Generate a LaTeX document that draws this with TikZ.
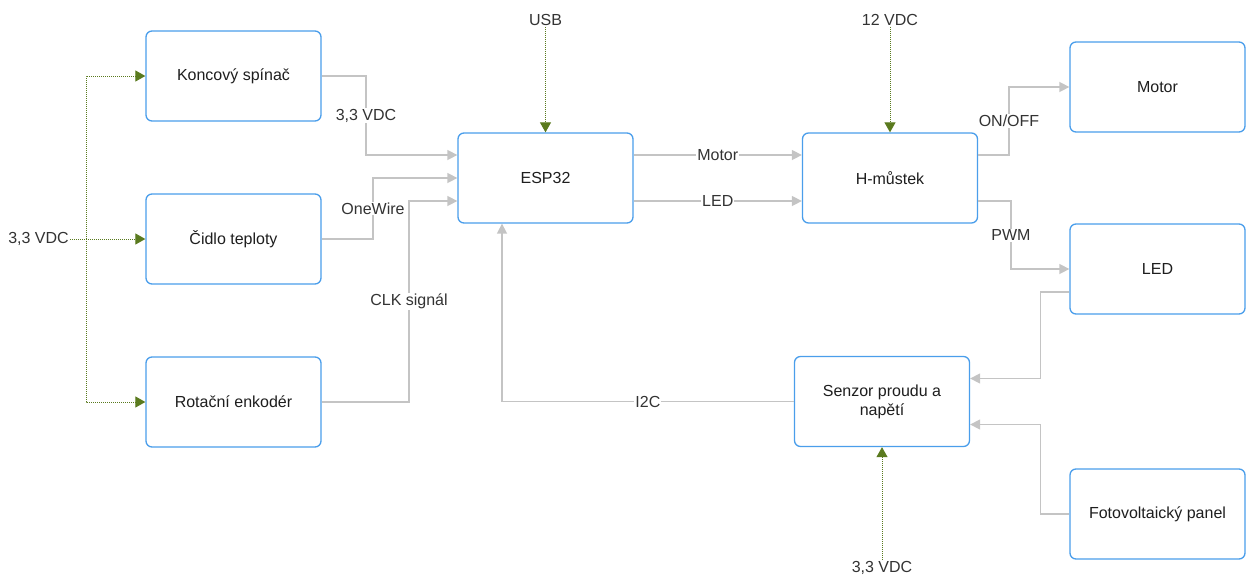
\documentclass[tikz,border=0pt]{standalone}
\usepackage{fontspec}
\setmainfont{Liberation Sans}
\usetikzlibrary{arrows.meta}
\definecolor{boxblue}{HTML}{4A9EEB}
\definecolor{wire}{HTML}{C4C4C4}
\definecolor{pwr}{HTML}{5A7A1E}
\definecolor{txt}{HTML}{1E1E1E}
\definecolor{ltxt}{HTML}{333333}
\begin{document}
\begin{tikzpicture}[x=1pt,y=-1pt,
  font=\fontsize{16}{19}\selectfont,
  blk/.style={draw=boxblue, line width=1.3pt, rounded corners=6pt, fill=white,
    minimum width=175pt, minimum height=90pt, align=center, text=txt, inner sep=2pt},
  sig/.style={draw=wire, line width=1.5pt, -{Triangle[length=10pt,width=10pt]}},
  pw/.style={draw=pwr, line width=1pt, dash pattern=on 1pt off 1pt,
    -{Triangle[length=10pt,width=11pt]}},
  lbl/.style={fill=white, text=ltxt, inner sep=1pt},
  plbl/.style={text=ltxt, inner sep=1pt}]
\useasboundingbox (0,0) rectangle (1251,576);

% blocks
\node[blk] (ko) at (233.5,76) {Koncový spínač};
\node[blk] (ci) at (233.5,239) {Čidlo teploty};
\node[blk] (ro) at (233.5,402) {Rotační enkodér};
\node[blk] (esp) at (545.5,178) {ESP32};
\node[blk] (hm) at (890,178) {H-můstek};
\node[blk] (mo) at (1157.5,87) {Motor};
\node[blk] (led) at (1157.5,269) {LED};
\node[blk] (se) at (882,401.5) {Senzor proudu a\\napětí};
\node[blk] (fv) at (1157.5,514) {Fotovoltaický panel};

% power labels
\node[plbl] (v33l) at (38.5,239) {3,3 VDC};
\node[plbl] (usb) at (545.5,20) {USB};
\node[plbl] (v12) at (890,20) {12 VDC};
\node[plbl] (v33b) at (882,568) {3,3 VDC};
\coordinate (jl) at (86,239);

% power connectors
\draw[pw] (v33l.east) -- (ci.west);
\draw[pw] (jl) |- (ko.west);
\draw[pw] (jl) |- (ro.west);
\draw[pw] (usb.south) -- (esp.north);
\draw[pw] (v12.south) -- (hm.north);
\draw[pw] (v33b.north) -- (se.south);

% signal connectors
\draw[sig] (ko.east) -- (366,76) |- node[pos=.25,lbl]{3,3 VDC} ([yshift=23pt]esp.west);
\draw[sig] (ci.east) -- (373,239) |- node[pos=.25,lbl]{OneWire} (esp.west);
\draw[sig] (ro.east) -- (409,402) |- node[pos=.25,lbl]{CLK signál} ([yshift=-23pt]esp.west);
\draw[sig] ([yshift=23pt]esp.east) -- node[lbl]{Motor} ([yshift=23pt]hm.west);
\draw[sig] ([yshift=-23pt]esp.east) -- node[lbl]{LED} ([yshift=-23pt]hm.west);
\draw[sig] ([yshift=23pt]hm.east) -- (1009,155) |- node[pos=.25,lbl]{ON/OFF} (mo.west);
\draw[sig] ([yshift=-23pt]hm.east) -- (1011,201) |- node[pos=.25,lbl]{PWM} (led.west);
\draw[sig] ([yshift=-23pt]led.west) -- (1040.5,292) |- ([yshift=23pt]se.east);
\draw[sig] (fv.west) -- (1040.5,514) |- ([yshift=-23pt]se.east);
\draw[sig] (se.west) -| node[pos=.25,lbl]{I2C} ([xshift=-43.5pt]esp.south);
\end{tikzpicture}
\end{document}
